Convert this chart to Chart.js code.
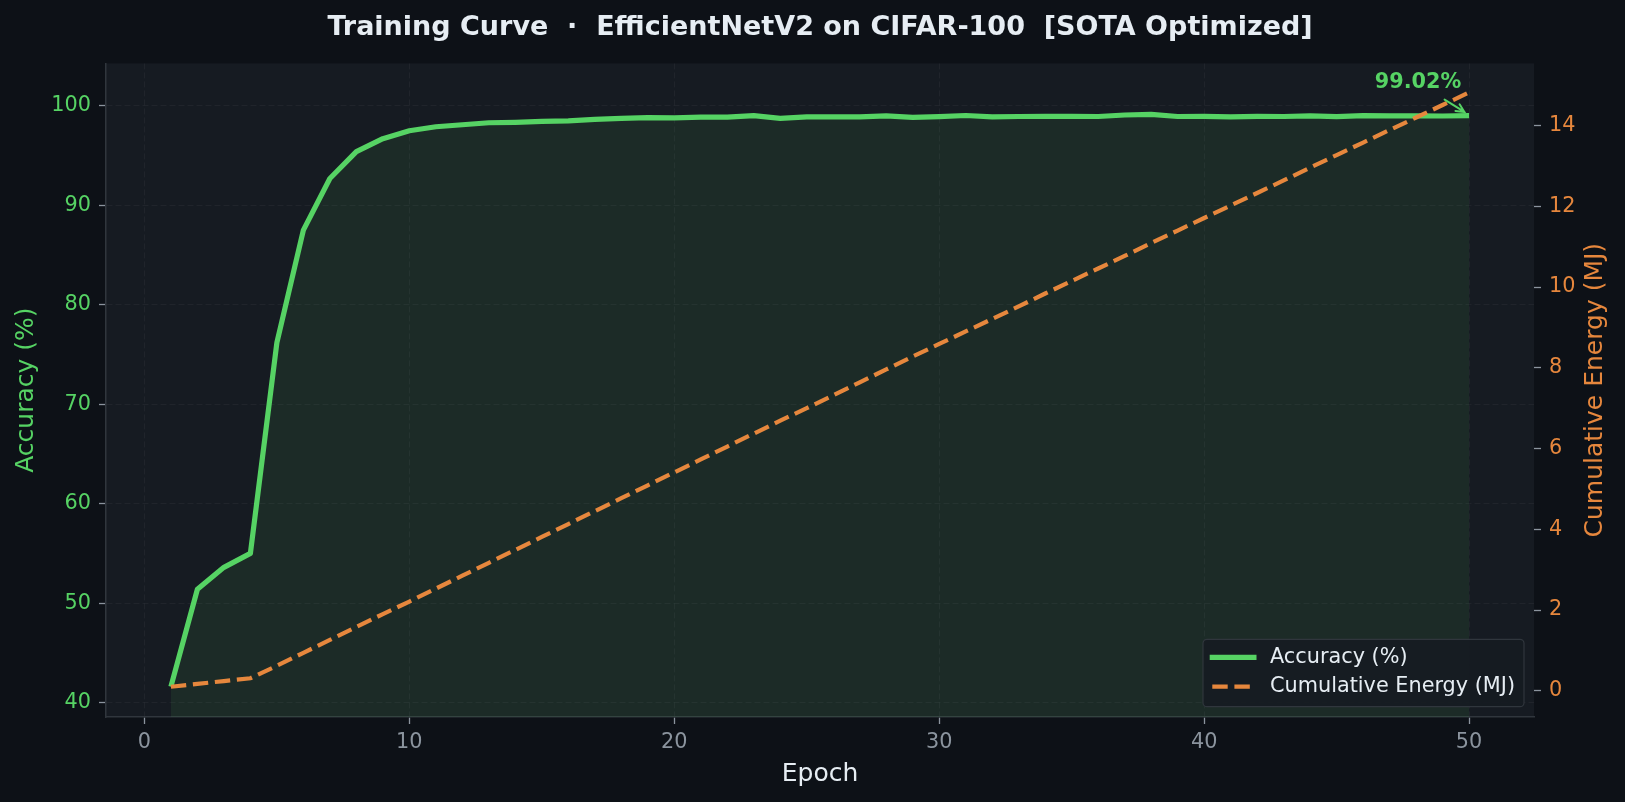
<!DOCTYPE html>
<html>
<head>
<meta charset="utf-8">
<title>Training Curve</title>
<script src="https://cdn.jsdelivr.net/npm/chart.js@4.4.1/dist/chart.umd.min.js"></script>
<style>
  html, body { margin: 0; padding: 0; background: #0d1117; }
  #wrap { width: 1625px; height: 802px; }
</style>
</head>
<body>
<div id="wrap"><canvas id="curve" width="1625" height="802"></canvas></div>
<script>
const EPOCHS = [
  1, 2, 3, 4, 5, 6, 7, 8, 9, 10,
  11, 12, 13, 14, 15, 16, 17, 18, 19, 20,
  21, 22, 23, 24, 25, 26, 27, 28, 29, 30,
  31, 32, 33, 34, 35, 36, 37, 38, 39, 40,
  41, 42, 43, 44, 45, 46, 47, 48, 49, 50,
];

const ACCURACY = [
  41.6, 51.4, 53.6, 55.0, 76.2, 87.5, 92.7, 95.4, 96.7, 97.5,
  97.9, 98.1, 98.3, 98.35, 98.45, 98.5, 98.65, 98.75, 98.82, 98.8,
  98.86, 98.86, 99.02, 98.75, 98.9, 98.9, 98.9, 99.0, 98.85, 98.92,
  99.03, 98.9, 98.93, 98.95, 98.95, 98.93, 99.08, 99.15, 98.93, 98.94,
  98.9, 98.95, 98.93, 99.0, 98.92, 99.02, 98.99, 99.0, 98.98, 99.02,
];

const ENERGY = [
  0.10, 0.17, 0.24, 0.31, 0.62, 0.94, 1.26, 1.58, 1.90, 2.21,
  2.53, 2.85, 3.17, 3.49, 3.81, 4.13, 4.45, 4.77, 5.09, 5.41,
  5.73, 6.05, 6.37, 6.69, 7.00, 7.32, 7.64, 7.96, 8.28, 8.59,
  8.90, 9.21, 9.52, 9.84, 10.15, 10.46, 10.77, 11.09, 11.40, 11.71,
  12.02, 12.33, 12.64, 12.96, 13.27, 13.58, 13.89, 14.20, 14.51, 14.82,
];

const X_TICKS = [0, 10, 20, 30, 40, 50];
const ACC_TICKS = [40, 50, 60, 70, 80, 90, 100];
const ENERGY_TICKS = [0, 2, 4, 6, 8, 10, 12, 14];

const TITLE = 'Training Curve  ·  EfficientNetV2 on CIFAR-100  [SOTA Optimized]';
const ACC_LABEL = 'Accuracy (%)';
const ENERGY_LABEL = 'Cumulative Energy (MJ)';

const GREEN = '#56d364';
const ORANGE = '#e6873d';
const FIG_BG = '#0d1117';
const AXES_BG = '#161b22';
const SPINE = '#30363d';
const TICK_MARK = '#8b949e';
const TEXT = '#e6edf3';
const GRID = 'rgba(255, 255, 255, 0.045)';
const FONT = "'DejaVu Sans', sans-serif";

Chart.defaults.font.family = FONT;

function fixedTicks(values) {
  return scale => {
    scale.ticks = values.map(value => ({ value }));
  };
}

const background = {
  id: 'background',
  beforeDraw(chart) {
    const { ctx, chartArea } = chart;
    ctx.save();
    ctx.fillStyle = FIG_BG;
    ctx.fillRect(0, 0, chart.width, chart.height);
    ctx.fillStyle = AXES_BG;
    ctx.fillRect(chartArea.left, chartArea.top, chartArea.right - chartArea.left, chartArea.bottom - chartArea.top);
    ctx.restore();
  },
};

// right axis title reads bottom-to-top, which the built-in title can't do
const rightTitle = {
  id: 'rightTitle',
  afterDraw(chart) {
    const { ctx } = chart;
    const s = chart.scales.y2;
    ctx.save();
    ctx.translate(s.right - 30, (s.top + s.bottom) / 2);
    ctx.rotate(-Math.PI / 2);
    ctx.fillStyle = ORANGE;
    ctx.font = `25px ${FONT}`;
    ctx.textAlign = 'center';
    ctx.textBaseline = 'middle';
    ctx.fillText(ENERGY_LABEL, 0, 0);
    ctx.restore();
  },
};

const finalNote = {
  id: 'finalNote',
  afterDatasetsDraw(chart) {
    const { ctx, scales: { x, y } } = chart;
    const last = ACCURACY.length - 1;
    const px = x.getPixelForValue(EPOCHS[last]);
    const py = y.getPixelForValue(ACCURACY[last]);

    ctx.save();
    ctx.fillStyle = GREEN;
    ctx.font = `bold 20.8px ${FONT}`;
    ctx.textAlign = 'center';
    ctx.textBaseline = 'middle';
    ctx.fillText(`${ACCURACY[last].toFixed(2)}%`, px - 51, py - 32.7);

    const sx = px - 24.5, sy = py - 16;
    const ex = px - 4.7, ey = py - 3.7;
    const angle = Math.atan2(ey - sy, ex - sx);
    ctx.strokeStyle = GREEN;
    ctx.lineWidth = 2;
    ctx.lineCap = 'round';
    ctx.beginPath();
    ctx.moveTo(sx, sy);
    ctx.lineTo(ex, ey);
    ctx.moveTo(ex - 9 * Math.cos(angle - 0.45), ey - 9 * Math.sin(angle - 0.45));
    ctx.lineTo(ex, ey);
    ctx.lineTo(ex - 9 * Math.cos(angle + 0.45), ey - 9 * Math.sin(angle + 0.45));
    ctx.stroke();
    ctx.restore();
  },
};

const boxLegend = {
  id: 'boxLegend',
  afterDraw(chart) {
    const { ctx, chartArea } = chart;
    const w = 321, h = 67.4;
    const left = chartArea.right - 10 - w;
    const top = chartArea.bottom - 10.3 - h;

    ctx.save();
    ctx.fillStyle = 'rgba(22, 27, 34, 0.92)';
    ctx.strokeStyle = SPINE;
    ctx.lineWidth = 1.2;
    ctx.beginPath();
    ctx.roundRect(left, top, w, h, 4);
    ctx.fill();
    ctx.stroke();

    ctx.font = `20.8px ${FONT}`;
    ctx.textAlign = 'left';
    ctx.textBaseline = 'middle';
    chart.data.datasets.forEach((ds, i) => {
      const rowY = top + 18 + i * 29.4;
      ctx.strokeStyle = ds.borderColor;
      ctx.lineWidth = ds.borderWidth;
      ctx.setLineDash(ds.borderDash || []);
      ctx.lineCap = ds.borderDash ? 'butt' : 'square';
      ctx.beginPath();
      ctx.moveTo(left + 9.3, rowY);
      ctx.lineTo(left + 50.9, rowY);
      ctx.stroke();
      ctx.setLineDash([]);
      ctx.fillStyle = TEXT;
      ctx.fillText(ds.label, left + 67, rowY);
    });
    ctx.restore();
  },
};

new Chart(document.getElementById('curve'), {
  type: 'line',
  data: {
    datasets: [
      {
        label: ACC_LABEL,
        data: EPOCHS.map((epoch, i) => ({ x: epoch, y: ACCURACY[i] })),
        yAxisID: 'y',
        borderColor: GREEN,
        borderWidth: 5.2,
        borderJoinStyle: 'round',
        backgroundColor: 'rgba(86, 211, 100, 0.09)',
        fill: 'start',
        pointRadius: 0,
        tension: 0,
        order: 1,
      },
      {
        label: ENERGY_LABEL,
        data: EPOCHS.map((epoch, i) => ({ x: epoch, y: ENERGY[i] })),
        yAxisID: 'y2',
        borderColor: ORANGE,
        borderWidth: 4.2,
        borderDash: [15.4, 6.7],
        fill: false,
        pointRadius: 0,
        tension: 0,
        order: 0,
      },
    ],
  },
  options: {
    responsive: false,
    devicePixelRatio: 1,
    animation: false,
    events: [],
    layout: { padding: 0 },
    plugins: {
      legend: { display: false },
      tooltip: { enabled: false },
      title: {
        display: true,
        text: TITLE,
        fullSize: false,
        color: TEXT,
        font: { size: 27, weight: 'bold', lineHeight: 1.2 },
        padding: { top: 12, bottom: 19 },
      },
    },
    scales: {
      x: {
        type: 'linear',
        position: 'bottom',
        min: -1.45,
        max: 52.45,
        afterBuildTicks: fixedTicks(X_TICKS),
        afterFit: scale => { scale.height = 85; },
        ticks: { color: TICK_MARK, font: { size: 20.8 }, padding: 6 },
        grid: { color: GRID, lineWidth: 1, tickLength: 7, tickColor: TICK_MARK, tickWidth: 1.3 },
        border: { display: true, color: SPINE, width: 1.5, dash: [6, 3] },
        title: { display: true, text: 'Epoch', color: TEXT, font: { size: 25 }, padding: { top: 0, bottom: 13 } },
      },
      y: {
        type: 'linear',
        position: 'left',
        min: 38.55,
        max: 104.27,
        afterBuildTicks: fixedTicks(ACC_TICKS),
        afterFit: scale => { scale.width = 106; },
        ticks: { color: GREEN, font: { size: 20.8 }, padding: 8 },
        grid: { color: GRID, lineWidth: 1, tickLength: 7, tickColor: TICK_MARK, tickWidth: 1.3 },
        border: { display: true, color: SPINE, width: 1.5, dash: [6, 3] },
        title: { display: true, text: ACC_LABEL, color: GREEN, font: { size: 25 }, padding: { top: 11, bottom: 0 } },
      },
      y2: {
        type: 'linear',
        position: 'right',
        min: -0.65,
        max: 15.54,
        afterBuildTicks: fixedTicks(ENERGY_TICKS),
        afterFit: scale => { scale.width = 91; },
        ticks: { color: ORANGE, font: { size: 20.8 }, padding: 8 },
        grid: { drawOnChartArea: false, tickLength: 7, tickColor: TICK_MARK, tickWidth: 1.3 },
        border: { display: false },
      },
    },
  },
  plugins: [background, finalNote, boxLegend, rightTitle],
});
</script>
</body>
</html>
